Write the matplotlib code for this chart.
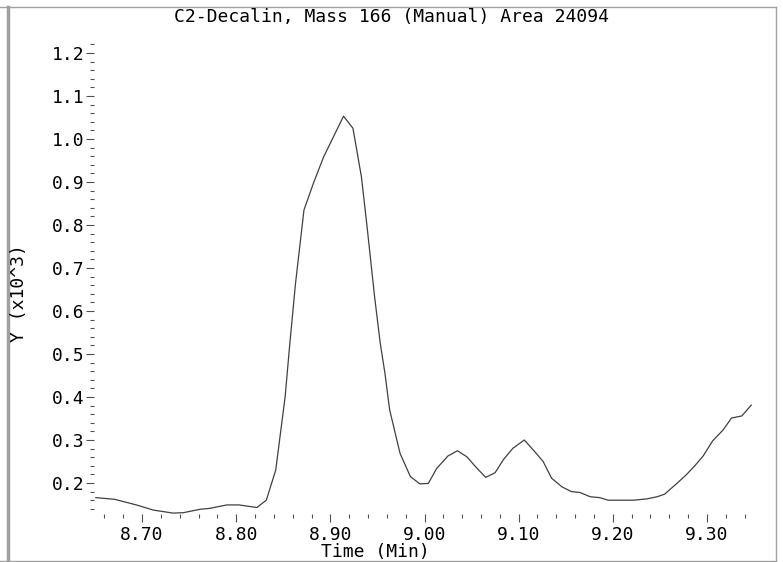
import matplotlib
matplotlib.use('Agg')
import matplotlib.pyplot as plt
from matplotlib.lines import Line2D
from matplotlib.ticker import MultipleLocator, FormatStrFormatter

# Ion chromatogram
times = [8.651, 8.671, 8.694, 8.712, 8.733, 8.744, 8.762, 8.772, 8.790, 8.803,
         8.822, 8.832, 8.842, 8.852, 8.857, 8.863, 8.872, 8.882, 8.893, 8.914,
         8.924, 8.933, 8.939, 8.947, 8.953, 8.958, 8.963, 8.974, 8.985, 8.995,
         9.004, 9.013, 9.025, 9.035, 9.045, 9.055, 9.065, 9.075, 9.084, 9.094,
         9.106, 9.117, 9.126, 9.135, 9.146, 9.156, 9.165, 9.176, 9.186, 9.195,
         9.222, 9.236, 9.247, 9.255, 9.268, 9.278, 9.287, 9.296, 9.306, 9.317,
         9.326, 9.337, 9.347]
signal = [0.166, 0.162, 0.149, 0.137, 0.130, 0.131, 0.139, 0.141, 0.149, 0.149,
          0.143, 0.160, 0.230, 0.401, 0.525, 0.664, 0.835, 0.897, 0.959, 1.053,
          1.025, 0.912, 0.796, 0.633, 0.525, 0.455, 0.370, 0.269, 0.215, 0.198,
          0.199, 0.234, 0.263, 0.275, 0.261, 0.236, 0.213, 0.224, 0.255, 0.281,
          0.300, 0.273, 0.250, 0.211, 0.191, 0.180, 0.178, 0.168, 0.166, 0.160,
          0.160, 0.163, 0.168, 0.174, 0.199, 0.219, 0.240, 0.263, 0.298, 0.323,
          0.351, 0.356, 0.381]

title = "C2-Decalin, Mass 166 (Manual) Area 24094"
mono = 'DejaVu Sans Mono'

W, H = 783, 562
fig = plt.figure(figsize=(W / 100, H / 100), dpi=100)
ax = fig.add_axes([94 / W, 1 - 514 / H, (760 - 94) / W, (514 - 40) / H])

ax.plot(times, signal, color='#404040', linewidth=0.9)

ax.set_xlim(8.649, 9.3563)
ax.set_ylim(0.1279, 1.2302)

ax.xaxis.set_major_locator(MultipleLocator(0.1))
ax.xaxis.set_minor_locator(MultipleLocator(0.02))
ax.yaxis.set_major_locator(MultipleLocator(0.1))
ax.yaxis.set_minor_locator(MultipleLocator(0.02))
ax.xaxis.set_major_formatter(FormatStrFormatter('%.2f'))
ax.yaxis.set_major_formatter(FormatStrFormatter('%.1f'))

for s in ax.spines.values():
    s.set_visible(False)

ax.tick_params(which='major', length=6, width=0.8, color='#505050',
               labelsize=13, pad=1)
ax.tick_params(which='minor', length=3, width=0.8, color='#505050')
ax.tick_params(axis='x', which='major', pad=3)
for lab in ax.get_xticklabels() + ax.get_yticklabels():
    lab.set_family(mono)

fig.text(392 / W, 1 - 17 / H, title, ha='center', va='center',
         fontsize=13, family=mono)
fig.text(375 / W, 1 - 552 / H, "Time (Min)", ha='center', va='center',
         fontsize=13, family=mono)
fig.text(19 / W, 1 - 293 / H, "Y (x10^3)", ha='center', va='center',
         fontsize=13, family=mono, rotation=90)

# gray frame around the plot
frame = '#a0a0a0'
fig.add_artist(Line2D([8 / W, 8 / W], [0, 1 - 7 / H], color=frame, linewidth=2.5,
                      transform=fig.transFigure))
fig.add_artist(Line2D([0, 775.5 / W], [1 - 7 / H, 1 - 7 / H], color=frame,
                      linewidth=1, transform=fig.transFigure))
fig.add_artist(Line2D([775.5 / W, 775.5 / W], [1 - 7 / H, 1 - 560.5 / H],
                      color=frame, linewidth=1, transform=fig.transFigure))
fig.add_artist(Line2D([0, 775.5 / W], [1 - 560.5 / H, 1 - 560.5 / H],
                      color=frame, linewidth=1, transform=fig.transFigure))

fig.savefig('out.png', dpi=100)
